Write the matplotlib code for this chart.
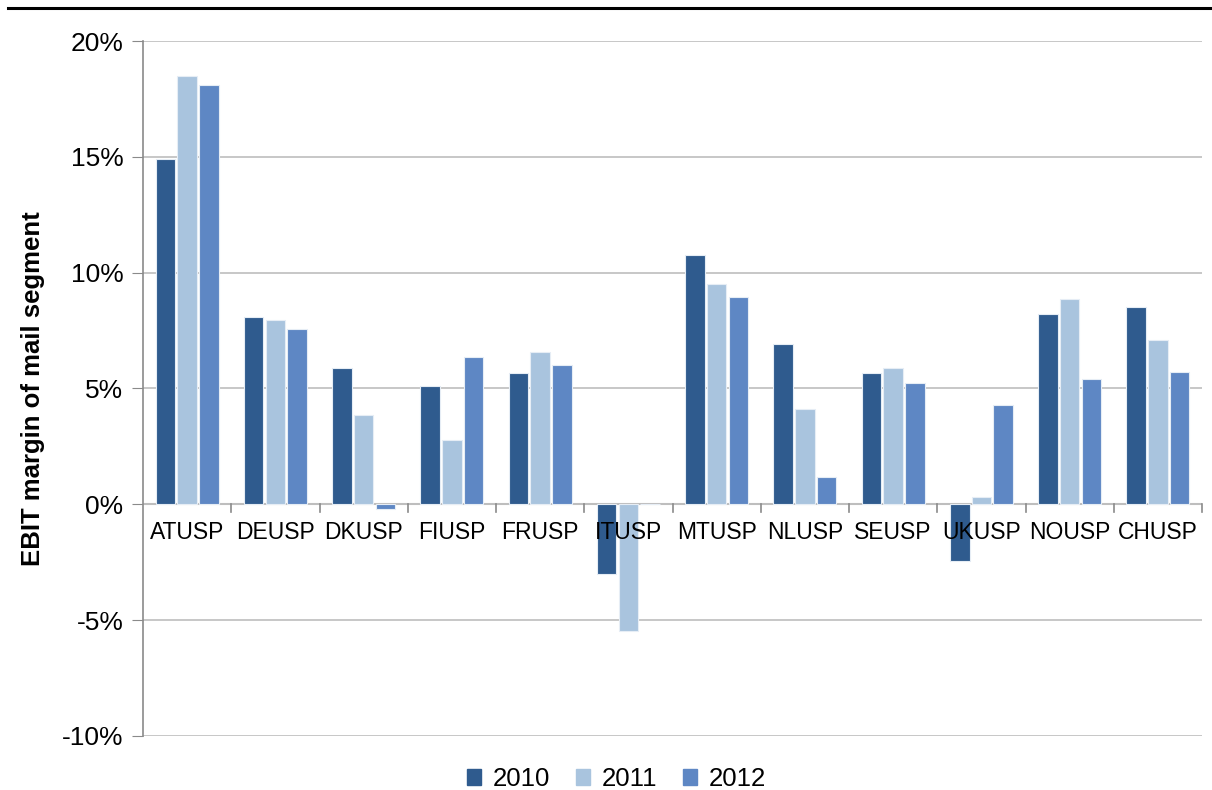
import numpy as np
import matplotlib.pyplot as plt
from matplotlib.lines import Line2D
from matplotlib.ticker import FuncFormatter

plt.rcParams['font.family'] = ['Liberation Sans', 'DejaVu Sans']

paises = ['ATUSP', 'DEUSP', 'DKUSP', 'FIUSP', 'FRUSP', 'ITUSP',
          'MTUSP', 'NLUSP', 'SEUSP', 'UKUSP', 'NOUSP', 'CHUSP']
anios = ['2010', '2011', '2012']
v2010 = [14.9, 8.07, 5.9, 5.09, 5.65, -3.02, 10.75, 6.9, 5.65, -2.46, 8.2, 8.52]
v2011 = [18.5, 7.94, 3.84, 2.76, 6.56, -5.48, 9.5, 4.1, 5.87, 0.3, 8.86, 7.1]
v2012 = [18.1, 7.55, -0.22, 6.34, 6.0, 0.0, 8.93, 1.17, 5.24, 4.27, 5.41, 5.71]
colores = ['#2f5b8e', '#a9c4de', '#5e87c4']

fig = plt.figure(figsize=(12.12, 7.9), dpi=100)
ax = fig.add_axes([0.118, 0.0684, 0.8738, 0.8797])

x = np.arange(len(paises))
paso = 0.246
for i, (vals, anio) in enumerate(zip([v2010, v2011, v2012], anios)):
    ax.bar(x + (i - 1) * paso, vals, width=0.222, color=colores[i],
           edgecolor='#e6edf5', linewidth=0.8, label=anio, zorder=3)

ax.set_xlim(-0.5, len(paises) - 0.5)
ax.set_ylim(-10, 20)
ax.set_yticks(np.arange(-10, 21, 5))
ax.yaxis.set_major_formatter(FuncFormatter(lambda v, p: f'{v:.0f}%'))
ax.grid(axis='y', color='#bebebe', linewidth=1.2, zorder=0)
ax.tick_params(axis='y', length=8, color='#8a8a8a', labelsize=19, pad=6)
ax.tick_params(axis='x', length=0)
ax.set_xticks(x)
ax.set_xticklabels([])

for s in ['top', 'right', 'bottom']:
    ax.spines[s].set_visible(False)
ax.spines['left'].set_color('#8a8a8a')
ax.spines['left'].set_linewidth(1.2)

# linea del cero con marcas entre categorias
ax.axhline(0, color='#bebebe', linewidth=1.5, zorder=2)
for b in np.arange(0.5, len(paises), 1.0):
    ax.plot([b, b], [0, -0.35], color='#8a8a8a', linewidth=1.2, zorder=2, clip_on=False)

for xi, nombre in zip(x, paises):
    ax.text(xi, -0.72, nombre, ha='center', va='top', fontsize=16.5, zorder=5)

ax.set_ylabel('EBIT margin of mail segment', fontsize=18.5, fontweight='bold', labelpad=12)

handles = [plt.Rectangle((0, 0), 1, 1, color=c) for c in colores]
fig.legend(handles, anios, loc='center', bbox_to_anchor=(0.5087, 0.014), ncol=3,
           frameon=False, fontsize=18.5, handlelength=0.55, handleheight=0.55,
           handletextpad=0.45, columnspacing=1.0)

fig.add_artist(Line2D([0.007, 1.0], [0.99, 0.99], color='black', linewidth=2.2))

fig.savefig('out.png', dpi=100)
